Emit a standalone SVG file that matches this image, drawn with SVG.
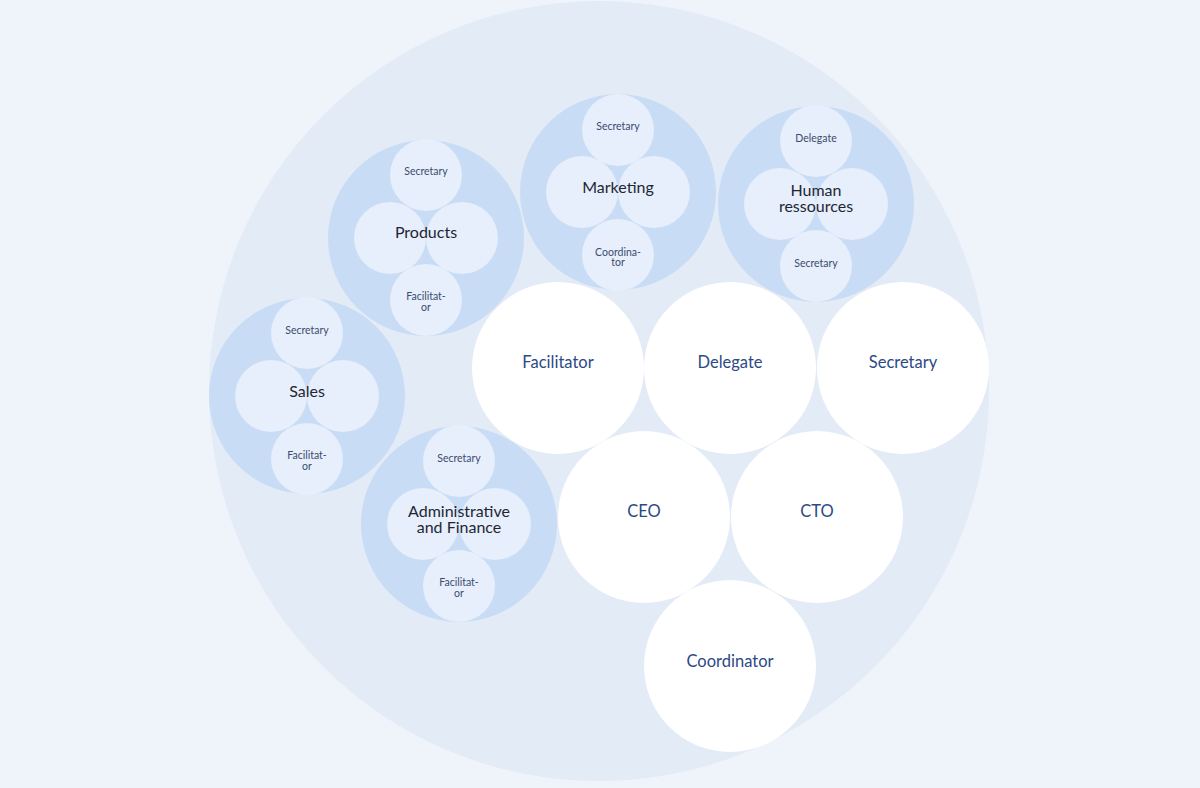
<svg xmlns="http://www.w3.org/2000/svg" width="1200" height="788" viewBox="0 0 1200 788">
<style>
.team{fill:#c9dcf5}.sub{fill:#e6effb}.role{fill:#ffffff}
text{font-family:Lato,"Noto Sans",sans-serif;text-anchor:middle}
.tl{font-size:16px;fill:#1f2633}.sl{font-size:10.5px;fill:#3d4b6e}.rl{font-size:16.5px;fill:#2c4a85}
</style>
<rect width="1200" height="788" fill="#eff3fa"/>
<circle cx="599" cy="391" r="390" fill="#e3ebf7"/>
<g id="connectors"/>
<g id="products"><circle class="team" cx="426" cy="238" r="98"/><circle class="sub" cx="426" cy="175" r="36"/><circle class="sub" cx="390" cy="238" r="36"/><circle class="sub" cx="462" cy="238" r="36"/><circle class="sub" cx="426" cy="300" r="36"/>
<text class="sl" x="426" y="175">Secretary</text><text class="tl" x="426" y="238">Products</text><text class="sl" x="426" y="300">Facilitat-</text><text class="sl" x="426" y="311">or</text></g>
<g id="marketing"><circle class="team" cx="618" cy="192" r="98"/><circle class="sub" cx="618" cy="130" r="36"/><circle class="sub" cx="582" cy="192" r="36"/><circle class="sub" cx="654" cy="192" r="36"/><circle class="sub" cx="618" cy="255" r="36"/>
<text class="sl" x="618" y="130">Secretary</text><text class="tl" x="618" y="193">Marketing</text><text class="sl" x="618" y="256">Coordina-</text><text class="sl" x="618" y="266">tor</text></g>
<g id="hr"><circle class="team" cx="816" cy="204" r="98"/><circle class="sub" cx="816" cy="141" r="36"/><circle class="sub" cx="780" cy="204" r="36"/><circle class="sub" cx="852" cy="204" r="36"/><circle class="sub" cx="816" cy="266" r="36"/>
<text class="sl" x="816" y="142">Delegate</text><text class="tl" x="816" y="196">Human</text><text class="tl" x="816" y="212">ressources</text><text class="sl" x="816" y="267">Secretary</text></g>
<g id="sales"><circle class="team" cx="307" cy="396" r="98"/><circle class="sub" cx="307" cy="333" r="36"/><circle class="sub" cx="271" cy="396" r="36"/><circle class="sub" cx="343" cy="396" r="36"/><circle class="sub" cx="307" cy="459" r="36"/>
<text class="sl" x="307" y="334">Secretary</text><text class="tl" x="307" y="397">Sales</text><text class="sl" x="307" y="459">Facilitat-</text><text class="sl" x="307" y="470">or</text></g>
<g id="admin"><circle class="team" cx="459" cy="524" r="98"/><circle class="sub" cx="459" cy="461" r="36"/><circle class="sub" cx="423" cy="524" r="36"/><circle class="sub" cx="495" cy="524" r="36"/><circle class="sub" cx="459" cy="586" r="36"/>
<text class="sl" x="459" y="462">Secretary</text><text class="tl" x="459" y="517">Administrative</text><text class="tl" x="459" y="533">and Finance</text><text class="sl" x="459" y="586">Facilitat-</text><text class="sl" x="459" y="597">or</text></g>
<g id="facilitator"><circle class="role" cx="558" cy="368" r="86"/><text class="rl" x="558" y="368">Facilitator</text></g>
<g id="delegate"><circle class="role" cx="730" cy="368" r="86"/><text class="rl" x="730" y="368">Delegate</text></g>
<g id="secretary"><circle class="role" cx="903" cy="368" r="86"/><text class="rl" x="903" y="368">Secretary</text></g>
<g id="ceo"><circle class="role" cx="644" cy="517" r="86"/><text class="rl" x="644" y="517">CEO</text></g>
<g id="cto"><circle class="role" cx="817" cy="517" r="86"/><text class="rl" x="817" y="517">CTO</text></g>
<g id="coordinator"><circle class="role" cx="730" cy="666" r="86"/><text class="rl" x="730" y="667">Coordinator</text></g>
</svg>
